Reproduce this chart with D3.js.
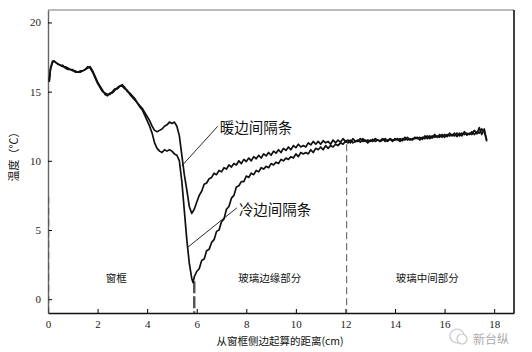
<!DOCTYPE html>
<html>
<head>
<meta charset="utf-8">
<script src="https://cdn.jsdelivr.net/npm/d3@7"></script>
<style>
  body { margin: 0; background: #fff; }
  svg { display: block; }
  .tick text { font-family: "Liberation Serif", serif; font-size: 11px; fill: #222; }
  .cn { font-family: "Noto Sans CJK SC", sans-serif; fill: #111; }
</style>
</head>
<body>
<div id="chart"></div>
<script>
const width = 532, height = 352,
    margin = ({ top: 10, right: 18, bottom: 39, left: 48 });

// tick labels
const xTicks = [0, 2, 4, 6, 8, 10, 12, 14, 16, 18];
const yTicks = [0, 5, 10, 15, 20];

// warm edge spacer curve (frame part + glass part)
const warmX = [0.05,0.1,0.18,0.25,0.32,0.4,0.5,0.6,0.7,0.8,0.9,1.0,1.1,1.2,1.3,1.4,1.5,1.6,1.7,1.8,1.9,2.0,2.1,2.2,2.3,2.4,2.5,2.6,2.7,2.8,2.9,3.0,3.1,3.2,3.3,3.4,3.5,3.6,3.7,3.8,3.9,4.0,4.1,
    4.2,4.3,4.4,4.5,4.6,4.7,4.8,4.9,5.0,5.1,5.2,5.3,5.4,5.5,5.6,5.7,5.8,5.9,
    6.0,6.1,6.2,6.3,6.4,6.5,6.6,6.7,6.8,6.9,7.0,7.1,7.2,7.3,7.4,7.5,7.6,7.7,7.8,7.9,8.0,8.1,8.2,8.3,8.4,8.5,8.6,8.7,8.8,8.9,
    9.0,9.1,9.2,9.3,9.4,9.5,9.6,9.7,9.8,9.9,10.0,10.1,10.2,10.3,10.4,10.5,10.6,10.7,10.8,10.9,11.0,11.1,11.2,11.3,11.4,11.5,11.6,11.7,11.8,11.9,
    12.0,12.1,12.2,12.3,12.4,12.5,12.6,12.7,12.8,12.9,13.0,13.1,13.2,13.3,13.4,13.5,13.6,13.7,13.8,13.9,14.0,14.1,14.2,14.3,14.4,14.5,14.6,14.7,14.8,14.9,
    15.0,15.1,15.2,15.3,15.4,15.5,15.6,15.7,15.8,15.9,16.0,16.1,16.2,16.3,16.4,16.5,16.6,16.7,16.8,16.9,17.0,17.1,17.2,17.3,17.4,17.5,17.6,17.7];
const warmY = [15.8,16.6,17.1,17.2,17.1,17.0,16.9,16.8,16.8,16.7,16.6,16.5,16.5,16.4,16.4,16.5,16.6,16.7,16.8,16.5,16.1,15.7,15.4,15.1,14.8,14.7,14.9,14.9,15.1,15.3,15.4,15.5,15.3,15.0,14.9,14.7,14.5,14.2,14.0,13.8,13.5,13.2,12.9,
    12.5,12.2,12.1,12.2,12.3,12.5,12.6,12.8,12.7,12.8,12.5,11.8,10.4,9.0,7.9,6.7,6.2,6.5,
    7.0,7.5,7.8,8.3,8.4,8.7,8.8,9.1,9.0,9.3,9.2,9.5,9.4,9.7,9.55,9.8,9.7,10.0,9.8,10.1,9.95,10.2,10.0,10.3,10.15,10.4,10.2,10.5,10.35,10.6,
    10.4,10.7,10.55,10.8,10.6,10.9,10.75,11.0,10.8,11.1,10.95,11.2,11.0,11.1,11.0,11.3,11.15,11.4,11.2,11.4,11.2,11.45,11.3,11.4,11.2,11.5,11.3,11.5,11.35,11.6,
    11.4,11.5,11.3,11.6,11.4,11.5,11.35,11.6,11.4,11.5,11.4,11.55,11.4,11.5,11.45,11.6,11.4,11.5,11.55,11.4,11.6,11.5,11.6,11.45,11.7,11.5,11.6,11.5,11.7,11.6,
    11.7,11.55,11.8,11.6,11.8,11.65,11.9,11.7,11.9,11.7,11.9,11.75,12.0,11.8,12.0,11.75,12.0,11.8,12.1,11.85,12.0,11.9,12.2,11.95,12.4,11.9,12.3,11.4];

// cold edge spacer curve
const coldX = [0.05,0.1,0.18,0.25,0.32,0.4,0.5,0.6,0.7,0.8,0.9,1.0,1.1,1.2,1.3,1.4,1.5,1.6,1.7,1.8,1.9,2.0,2.1,2.2,2.3,2.4,2.5,2.6,2.7,2.8,2.9,3.0,3.1,3.2,3.3,3.4,3.5,3.6,3.7,3.8,3.9,4.0,4.1,
    4.2,4.3,4.4,4.5,4.6,4.7,4.8,4.9,5.0,5.1,5.2,5.3,5.4,5.5,5.6,5.7,5.8,5.85,5.9,
    6.0,6.1,6.2,6.3,6.4,6.5,6.6,6.7,6.8,6.9,7.0,7.1,7.2,7.3,7.4,7.5,7.6,7.7,7.8,7.9,8.0,8.1,8.2,8.3,8.4,8.5,8.6,8.7,8.8,8.9,
    9.0,9.1,9.2,9.3,9.4,9.5,9.6,9.7,9.8,9.9,10.0,10.1,10.2,10.3,10.4,10.5,10.6,10.7,10.8,10.9,11.0,11.1,11.2,11.3,11.4,11.5,11.6,11.7,11.8,11.9,
    12.0,12.1,12.2,12.3,12.4,12.5,12.6,12.7,12.8,12.9,13.0,13.1,13.2,13.3,13.4,13.5,13.6,13.7,13.8,13.9,14.0,14.1,14.2,14.3,14.4,14.5,14.6,14.7,14.8,14.9,
    15.0,15.1,15.2,15.3,15.4,15.5,15.6,15.7,15.8,15.9,16.0,16.1,16.2,16.3,16.4,16.5,16.6,16.7,16.8,16.9,17.0,17.1,17.2,17.3,17.4,17.5,17.6,17.7];
const coldY = [15.7,16.7,17.2,17.2,17.1,17.0,16.9,16.9,16.7,16.6,16.6,16.6,16.4,16.4,16.5,16.5,16.6,16.8,16.7,16.4,16.0,15.6,15.3,15.0,14.9,14.8,14.8,15.0,15.2,15.2,15.4,15.4,15.2,15.1,14.8,14.6,14.4,14.2,13.9,13.7,13.3,12.9,12.5,
    12.0,11.3,10.9,10.7,10.6,10.8,10.7,10.8,10.7,10.5,10.4,10.0,8.5,6.4,4.3,2.6,1.5,1.2,1.6,
    2.0,2.2,2.8,2.9,3.5,3.6,4.1,4.3,4.9,5.0,5.6,5.8,6.5,6.7,7.3,7.5,8.1,8.2,8.5,8.5,8.9,8.8,9.1,9.0,9.3,9.2,9.5,9.4,9.6,9.5,
    9.8,9.7,9.9,9.8,10.1,10.0,10.2,10.1,10.3,10.2,10.5,10.3,10.6,10.5,10.6,10.5,10.8,10.6,10.9,10.8,11.0,10.8,11.1,10.9,11.1,11.0,11.2,11.1,11.3,11.2,
    11.4,11.3,11.5,11.3,11.4,11.4,11.6,11.4,11.5,11.3,11.5,11.4,11.6,11.5,11.4,11.5,11.6,11.4,11.6,11.5,11.5,11.6,11.4,11.6,11.5,11.7,11.5,11.6,11.6,11.7,
    11.5,11.7,11.6,11.8,11.6,11.8,11.7,11.8,11.7,11.9,11.7,11.9,11.8,11.9,11.8,12.0,11.8,12.0,11.9,12.0,11.9,12.1,11.9,12.1,12.0,12.3,12.1,11.5];

// vertical dashed dividers: x position and top of the dash
const dividerX = [0.03, 5.9, 12.05];
const dividerTop = [7.4, 1.3, 11.2];

// region labels
const regionNames = ["窗框", "玻璃边缘部分", "玻璃中间部分"];
const regionX = [2.75, 8.95, 15.3];
const regionY = 1.25;

// annotations: label, label anchor (data), leader end (data)
const noteNames = ["暖边间隔条", "冷边间隔条"];
const noteFrom = [[6.85, 12.5], [7.62, 6.6]];
const noteTo = [[5.4, 9.64], [5.65, 3.77]];

const svg = d3.select("#chart")
    .append("svg")
    .attr("width", width)
    .attr("height", height);

let x = d3.scaleLinear()
    .domain([0, 18.8])
    .range([margin.left, width - margin.right]);

let y = d3.scaleLinear()
    .domain([-1.0, 20.9])
    .range([height - margin.bottom, margin.top]);

// frame: top and right lines
svg.append("line")
    .attr("x1", x(0)).attr("x2", x(18.8))
    .attr("y1", y(20.9)).attr("y2", y(20.9))
    .attr("stroke", "#777").attr("stroke-width", 1.2);
svg.append("line")
    .attr("x1", x(18.8)).attr("x2", x(18.8))
    .attr("y1", y(20.9)).attr("y2", y(-1.0))
    .attr("stroke", "#111").attr("stroke-width", 1.6);

// axes with inward ticks
const yAxis = svg.append("g")
    .attr("transform", `translate(${margin.left},0)`)
    .call(d3.axisLeft(y).tickValues(yTicks).tickSizeInner(-4).tickSizeOuter(0).tickPadding(7));
yAxis.select(".domain").attr("stroke", "#666").attr("stroke-width", 1.4);

const xAxis = svg.append("g")
    .attr("transform", `translate(0,${height - margin.bottom})`)
    .call(d3.axisBottom(x).tickValues(xTicks).tickSizeInner(-4).tickSizeOuter(0).tickPadding(6));
xAxis.select(".domain").attr("stroke", "#111").attr("stroke-width", 1.6);
xAxis.selectAll(".tick text").attr("dy", "0.85em");

// axis titles
svg.append("text")
    .attr("class", "cn")
    .attr("text-anchor", "middle")
    .attr("transform", `translate(18,${y(10.5)}) rotate(-90)`)
    .attr("font-size", 11)
    .text("温度（℃）");

svg.append("text")
    .attr("class", "cn")
    .attr("text-anchor", "middle")
    .attr("x", 280)
    .attr("y", 345)
    .attr("font-size", 10.5)
    .text("从窗框侧边起算的距离(cm)");

// dashed dividers
svg.selectAll(".divider")
    .data(dividerX)
    .join("line")
    .attr("class", "divider")
    .attr("x1", d => x(d)).attr("x2", d => x(d))
    .attr("y1", (d, i) => y(dividerTop[i]))
    .attr("y2", y(-1.0))
    .attr("stroke", "#555")
    .attr("stroke-width", (d, i) => i == 1 ? 2.5 : 1)
    .attr("stroke-dasharray", (d, i) => i == 1 ? "12,3" : "7,4");

// region labels
svg.selectAll(".region")
    .data(regionNames)
    .join("text")
    .attr("class", "cn region")
    .attr("text-anchor", "middle")
    .attr("x", (d, i) => x(regionX[i]))
    .attr("y", y(regionY))
    .attr("font-size", 10.5)
    .text(d => d);

let line = d3.line()
    .x(d => x(d[0]))
    .y(d => y(d[1]));

svg.append("path")
    .datum(warmX.map((v, i) => [v, warmY[i]]))
    .attr("d", line)
    .attr("fill", "none")
    .attr("stroke", "#111")
    .attr("stroke-width", 1.7)
    .attr("stroke-linejoin", "round");

svg.append("path")
    .datum(coldX.map((v, i) => [v, coldY[i]]))
    .attr("d", line)
    .attr("fill", "none")
    .attr("stroke", "#111")
    .attr("stroke-width", 1.7)
    .attr("stroke-linejoin", "round");

// annotations
svg.selectAll(".leader")
    .data(noteNames)
    .join("line")
    .attr("class", "leader")
    .attr("x1", (d, i) => x(noteFrom[i][0])).attr("y1", (d, i) => y(noteFrom[i][1]))
    .attr("x2", (d, i) => x(noteTo[i][0])).attr("y2", (d, i) => y(noteTo[i][1]))
    .attr("stroke", "#111").attr("stroke-width", 0.9);

svg.selectAll(".note")
    .data(noteNames)
    .join("text")
    .attr("class", "cn note")
    .attr("x", (d, i) => x(noteFrom[i][0]) + 2)
    .attr("y", (d, i) => y(noteFrom[i][1]) + 7)
    .attr("font-size", 14.5)
    .text(d => d);

// watermark
const wm = svg.append("g").attr("transform", "translate(457,336)").attr("opacity", 0.55);
wm.append("circle").attr("r", 7).attr("fill", "none").attr("stroke", "#999").attr("stroke-width", 1.2);
wm.append("circle").attr("cx", 5).attr("cy", 3).attr("r", 5).attr("fill", "#fff").attr("stroke", "#999").attr("stroke-width", 1.2);
svg.append("text")
    .attr("class", "cn")
    .attr("x", 473).attr("y", 344)
    .attr("font-size", 12)
    .style("fill", "#aaa")
    .text("新台纵");
</script>
</body>
</html>
